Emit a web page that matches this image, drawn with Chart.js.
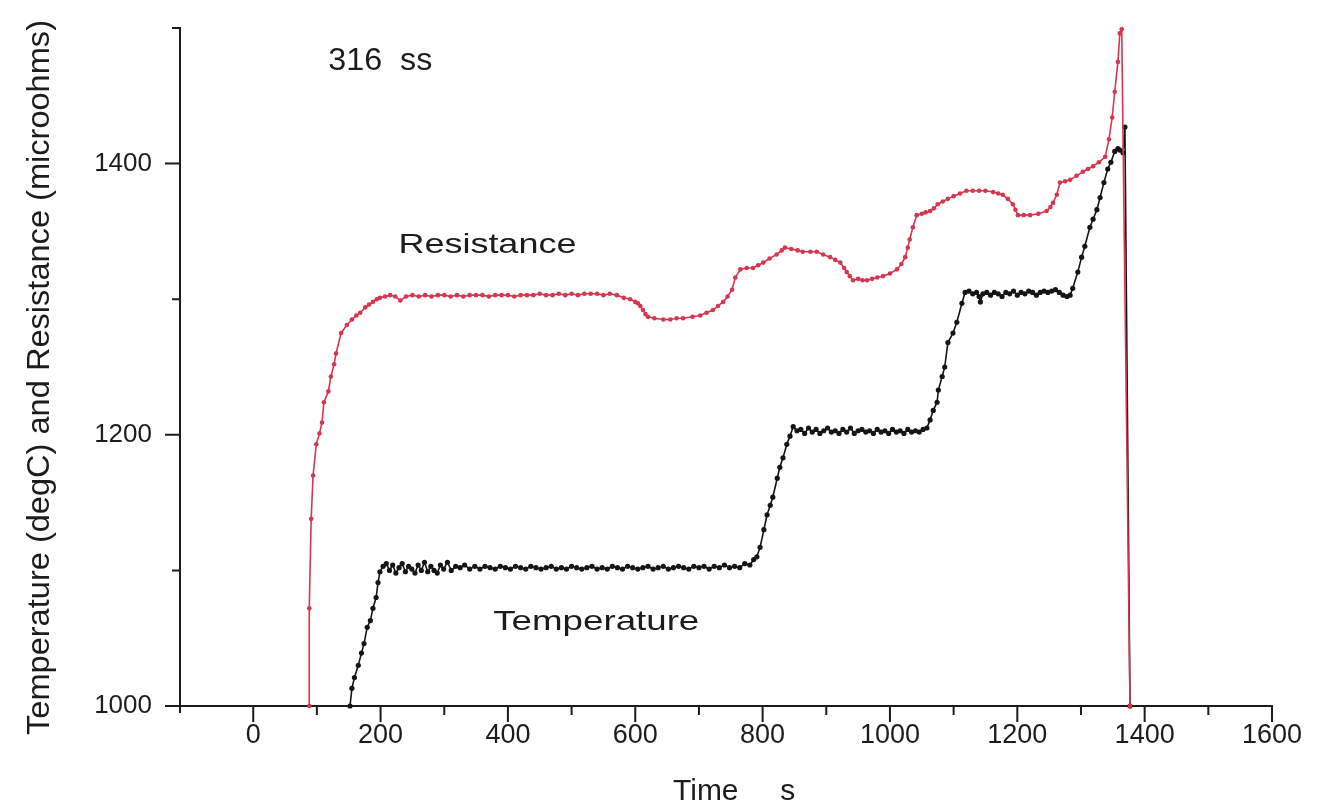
<!DOCTYPE html>
<html>
<head>
<meta charset="utf-8">
<script src="https://cdn.jsdelivr.net/npm/chart.js@4/dist/chart.umd.min.js"></script>
<style>
  html, body { margin: 0; padding: 0; background: #fff; }
  #wrap { width: 1325px; height: 811px; }
</style>
</head>
<body>
<div id="wrap"><canvas id="chart" width="1325" height="811"></canvas></div>
<script>
// Resistance trace (time s, microohms)
const resTime = [88, 88, 91, 94, 99, 104, 108, 111, 118, 122, 127, 130, 138, 147, 155, 162, 168, 176, 182, 188, 194, 199,
  207, 215, 223, 231, 240, 250, 260, 270, 280, 290, 300, 310, 320, 330, 340, 350, 360, 370, 380, 390, 400, 410, 420, 430,
  440, 450, 460, 470, 480, 490, 500, 510, 520, 530, 540, 550, 560, 571, 582, 592, 600, 604, 608, 612, 616, 620, 630, 644,
  655, 665, 675, 690, 702, 712, 722, 730, 738, 745, 752, 757, 765, 775, 785, 793, 801, 811, 822, 830, 835, 845, 855, 863,
  875, 885, 895, 906, 914, 922, 928, 932, 937, 942, 950, 957, 964, 972, 980, 989, 1000, 1011, 1018, 1024, 1028, 1031, 1036,
  1042, 1050, 1056, 1063, 1069, 1075, 1083, 1091, 1100, 1110, 1120, 1130, 1140, 1150, 1162, 1170, 1177, 1185, 1193, 1197,
  1201, 1210, 1220, 1233, 1246, 1252, 1256, 1262, 1267, 1275, 1283, 1293, 1303, 1311, 1319, 1328, 1338, 1344, 1349, 1353,
  1358, 1361, 1364, 1377];
const resValue = [1000, 1072, 1138, 1170, 1193, 1201, 1209, 1224, 1232, 1243, 1252, 1260, 1275, 1281, 1285, 1288, 1290, 1294, 1296, 1298, 1300, 1301,
  1302, 1303, 1302, 1299, 1302, 1303, 1302, 1303, 1302, 1303, 1303, 1302, 1303, 1302, 1303, 1303, 1303, 1302, 1303, 1303, 1303, 1302, 1303, 1303,
  1303, 1304, 1303, 1303, 1304, 1303, 1304, 1303, 1304, 1304, 1304, 1303, 1304, 1303, 1301, 1300, 1298, 1297, 1295, 1292, 1289, 1287, 1286, 1285,
  1285, 1286, 1286, 1287, 1288, 1290, 1292, 1295, 1298, 1302, 1307, 1316, 1322, 1323, 1323, 1325, 1327, 1330, 1333, 1336, 1338, 1337, 1336, 1335,
  1335, 1335, 1333, 1331, 1329, 1327, 1323, 1320, 1317, 1314, 1315, 1314, 1314, 1315, 1316, 1317, 1319, 1322, 1326, 1331, 1338, 1344, 1353,
  1362, 1363, 1364, 1365, 1367, 1370, 1372, 1374, 1376, 1378, 1380, 1380, 1380, 1380, 1379, 1378, 1377, 1374, 1370, 1366,
  1362, 1362, 1362, 1363, 1365, 1368, 1371, 1377, 1386, 1387, 1388, 1391, 1394, 1396, 1398, 1401, 1405, 1418, 1434, 1453,
  1475, 1496, 1499, 1000];

// Temperature trace (time s, degC)
const tempTime = [152, 155, 159, 165, 170, 174, 179, 184, 188, 193, 196, 199, 204, 209, 214, 219, 224, 229, 234, 239, 244,
  249, 254, 259, 264, 269, 274, 279, 284, 289, 294, 299, 305, 311, 318, 325, 332, 340, 348, 356, 364, 372, 380, 388, 396,
  404, 412, 420, 428, 436, 444, 452, 460, 468, 476, 484, 492, 500, 508, 516, 524, 532, 540, 548, 556, 564, 572, 580, 588,
  596, 604, 612, 620, 628, 636, 644, 652, 660, 668, 676, 684, 692, 700, 708, 716, 724, 732, 740, 748, 756, 764, 772, 780,
  786, 791, 796, 802, 807, 812, 816, 823, 827, 832, 838, 843, 848, 854, 860, 866, 872, 878, 884, 890, 896, 902, 908, 914,
  920, 926, 932, 938, 944, 950, 956, 962, 968, 974, 980, 986, 992, 998, 1004, 1010, 1016, 1022, 1028, 1034, 1040, 1046,
  1052, 1058, 1063, 1068, 1074, 1076, 1082, 1086, 1091, 1099, 1105, 1113, 1118, 1124, 1130, 1136, 1140, 1142, 1146, 1152,
  1158, 1164, 1170, 1176, 1182, 1188, 1194, 1200, 1206, 1212, 1218, 1224, 1230, 1236, 1242, 1248, 1254, 1260, 1266, 1272,
  1278, 1283, 1287, 1295, 1301, 1306, 1314, 1319, 1325, 1330, 1336, 1342, 1347, 1353, 1358, 1361, 1366, 1369, 1377];
const tempValue = [1000, 1013, 1021, 1030, 1039, 1046, 1058, 1063, 1072, 1080, 1091, 1099, 1103, 1105, 1100, 1104, 1098, 1102, 1105, 1099, 1103,
  1101, 1098, 1104, 1100, 1106, 1099, 1103, 1100, 1098, 1104, 1101, 1106, 1100, 1103, 1102, 1104, 1101, 1103, 1101, 1103, 1102, 1101, 1103, 1102,
  1101, 1103, 1102, 1101, 1103, 1102, 1101, 1102, 1103, 1101, 1102, 1101, 1103, 1102, 1101, 1102, 1103, 1101, 1102, 1101, 1103, 1102, 1101, 1103,
  1102, 1101, 1102, 1103, 1101, 1102, 1103, 1101, 1102, 1103, 1102, 1101, 1103, 1102, 1103, 1101, 1103, 1102, 1104, 1102, 1103, 1102, 1105, 1104,
  1108, 1110, 1117, 1130, 1141, 1148, 1154, 1168, 1176, 1183, 1193, 1199, 1206, 1203, 1204, 1201, 1205, 1202, 1204, 1201, 1203, 1205, 1202, 1203,
  1201, 1204, 1202, 1205, 1201, 1203, 1204, 1202, 1203, 1201, 1204, 1202, 1203, 1201, 1204, 1202, 1203, 1201, 1204, 1202, 1203, 1202,
  1204, 1205, 1211, 1218, 1224, 1233, 1243, 1250, 1268, 1275, 1283, 1297, 1305, 1306, 1304, 1305, 1302, 1298, 1304, 1305,
  1303, 1305, 1304, 1302, 1305, 1304, 1306, 1303, 1305, 1304, 1306, 1305, 1303, 1305, 1306, 1305, 1306, 1307, 1305, 1303,
  1302, 1303, 1308, 1320, 1331, 1339, 1353, 1359, 1366, 1375, 1386, 1396, 1401, 1409, 1411, 1410, 1408, 1427, 1000];

// Axis ranges and labelled ticks
const xRange = [-115, 1600];
const yRange = [1000, 1500];
const xLabelTicks = [0, 200, 400, 600, 800, 1000, 1200, 1400, 1600];
const yLabelTicks = [1000, 1200, 1400];

// Text placed on the plot, anchored in data units
const notes = [
  { text: '316  ss', x: 118, y: 1469, size: 31, width: 104 },
  { text: 'Resistance', x: 228, y: 1334, size: 28, width: 178 },
  { text: 'Temperature', x: 377, y: 1056, size: 28, width: 206 }
];

const FONT = "'Liberation Sans', Arial, Helvetica, sans-serif";
const INK = '#1c1c1c';

function toPoints(xs, ys) {
  return xs.map((x, i) => ({ x: x, y: ys[i] }));
}

function fitText(ctx, text, x, y, size, width) {
  ctx.font = size + 'px ' + FONT;
  const w = ctx.measureText(text).width;
  ctx.save();
  ctx.translate(x, y);
  ctx.scale(width / w, 1);
  ctx.fillText(text, 0, 0);
  ctx.restore();
}

const decor = {
  id: 'decor',
  afterDraw(chart) {
    const ctx = chart.ctx;
    const xs = chart.scales.x;
    const ys = chart.scales.y;
    const area = chart.chartArea;
    ctx.save();
    ctx.strokeStyle = INK;
    ctx.lineWidth = 2;
    ctx.beginPath();
    // x tick marks, long on labelled values
    for (let v = 0; v <= xRange[1]; v += 100) {
      const px = xs.getPixelForValue(v);
      const len = xLabelTicks.includes(v) ? 16 : 9;
      ctx.moveTo(px, area.bottom);
      ctx.lineTo(px, area.bottom + len);
    }
    // y tick marks
    for (let v = yRange[0]; v <= yRange[1]; v += 100) {
      const py = ys.getPixelForValue(v);
      const len = yLabelTicks.includes(v) ? 15 : 8;
      ctx.moveTo(area.left, py);
      ctx.lineTo(area.left - len, py);
    }
    // y axis runs a little past the x axis
    ctx.moveTo(area.left, area.bottom);
    ctx.lineTo(area.left, area.bottom + 7);
    ctx.stroke();

    ctx.fillStyle = INK;
    ctx.textBaseline = 'alphabetic';
    ctx.textAlign = 'left';
    notes.forEach(n => {
      fitText(ctx, n.text, xs.getPixelForValue(n.x), ys.getPixelForValue(n.y), n.size, n.width);
    });

    // x axis title
    ctx.font = '30px ' + FONT;
    ctx.fillText('Time     s', 673, 800);

    // y axis title, rotated
    ctx.save();
    ctx.translate(40, 735);
    ctx.rotate(-Math.PI / 2);
    ctx.textBaseline = 'middle';
    fitText(ctx, 'Temperature (degC) and Resistance (microohms)', 0, 0, 31, 715);
    ctx.restore();
    ctx.restore();
  }
};

const chart = new Chart(document.getElementById('chart'), {
  type: 'scatter',
  data: {
    datasets: [
      {
        label: 'Resistance',
        data: toPoints(resTime, resValue),
        showLine: true,
        borderColor: '#d8364f',
        backgroundColor: '#d8364f',
        borderWidth: 1.6,
        pointRadius: 2.3,
        pointBorderWidth: 0
      },
      {
        label: 'Temperature',
        data: toPoints(tempTime, tempValue),
        showLine: true,
        borderColor: '#151515',
        backgroundColor: '#151515',
        borderWidth: 1.6,
        pointRadius: 2.6,
        pointBorderWidth: 0
      }
    ]
  },
  options: {
    responsive: false,
    animation: false,
    clip: false,
    layout: { padding: { top: 28, right: 53, left: 0, bottom: 0 } },
    plugins: {
      legend: { display: false },
      tooltip: { enabled: false }
    },
    scales: {
      x: {
        type: 'linear',
        min: xRange[0],
        max: xRange[1],
        grid: { display: false, drawTicks: false },
        border: { display: true, color: INK, width: 2 },
        ticks: {
          stepSize: 100,
          padding: 13,
          color: INK,
          font: { family: FONT, size: 27 },
          maxRotation: 0,
          autoSkip: false,
          callback: v => xLabelTicks.includes(v) ? String(v) : ''
        },
        afterFit: s => {
          s.height = 105;
          s.paddingLeft = 0;
          s.paddingRight = 0;
        }
      },
      y: {
        type: 'linear',
        min: yRange[0],
        max: yRange[1],
        grid: { display: false, drawTicks: false },
        border: { display: true, color: INK, width: 2 },
        ticks: {
          stepSize: 100,
          padding: 28,
          color: INK,
          font: { family: FONT, size: 26 },
          callback: v => yLabelTicks.includes(v) ? String(v) : ''
        },
        afterFit: s => {
          s.width = 180;
          s.paddingTop = 0;
          s.paddingBottom = 0;
        }
      }
    }
  },
  plugins: [decor]
});
</script>
</body>
</html>
